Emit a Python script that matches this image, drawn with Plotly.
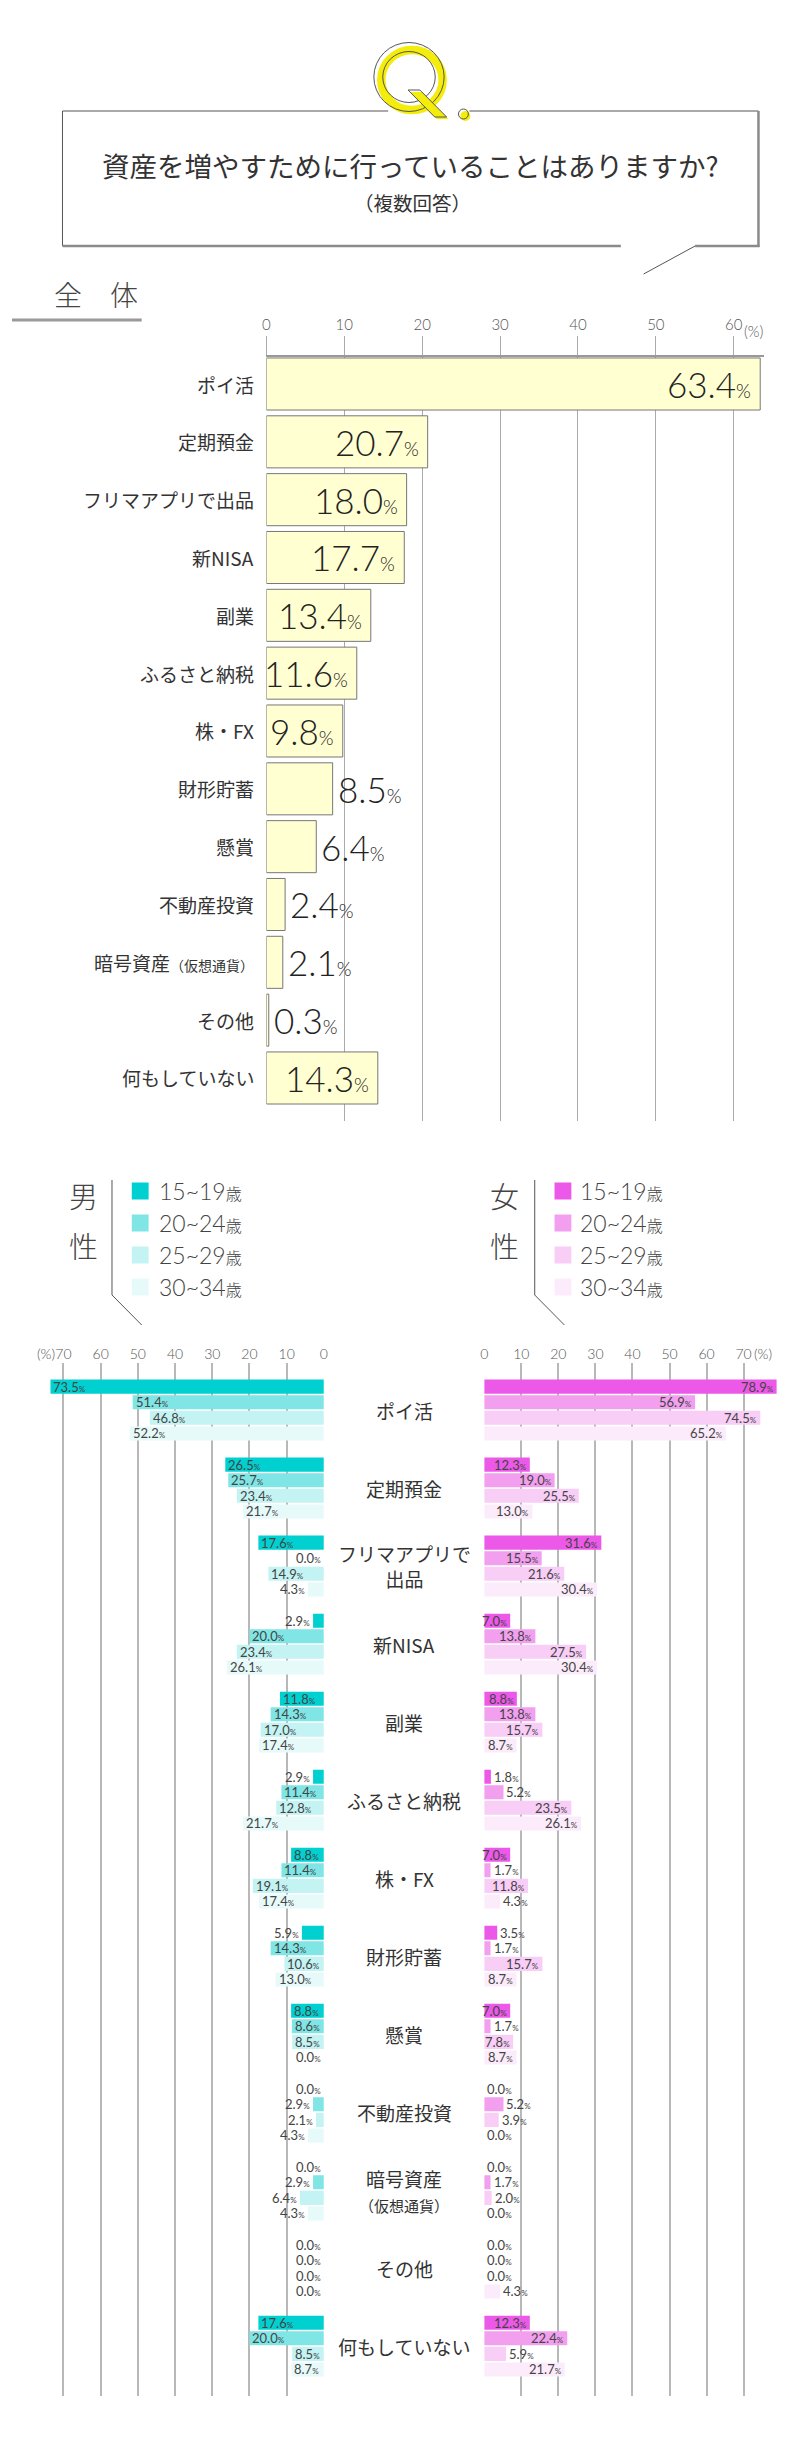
import plotly.graph_objects as go

# ---- data ----
categories = ["ポイ活", "定期預金", "フリマアプリで出品", "新NISA", "副業", "ふるさと納税", "株・FX",
              "財形貯蓄", "懸賞", "不動産投資", "暗号資産（仮想通貨）", "その他", "何もしていない"]
cat_top = ["ポイ活", "定期預金", "フリマアプリで出品", "新NISA", "副業", "ふるさと納税", "株・FX",
           "財形貯蓄", "懸賞", "不動産投資",
           "暗号資産<span style='font-size:14px'>（仮想通貨）</span>", "その他", "何もしていない"]
cat_bottom = ["ポイ活", "定期預金", "フリマアプリで<br>出品", "新NISA", "副業", "ふるさと納税", "株・FX",
              "財形貯蓄", "懸賞", "不動産投資",
              "暗号資産<br><span style='font-size:15px'>（仮想通貨）</span>", "その他", "何もしていない"]

total = [63.4, 20.7, 18.0, 17.7, 13.4, 11.6, 9.8, 8.5, 6.4, 2.4, 2.1, 0.3, 14.3]

age_groups = ["15~19", "20~24", "25~29", "30~34"]
male_15_19 = [73.5, 26.5, 17.6, 2.9, 11.8, 2.9, 8.8, 5.9, 8.8, 0.0, 0.0, 0.0, 17.6]
male_20_24 = [51.4, 25.7, 0.0, 20.0, 14.3, 11.4, 11.4, 14.3, 8.6, 2.9, 2.9, 0.0, 20.0]
male_25_29 = [46.8, 23.4, 14.9, 23.4, 17.0, 12.8, 19.1, 10.6, 8.5, 2.1, 6.4, 0.0, 8.5]
male_30_34 = [52.2, 21.7, 4.3, 26.1, 17.4, 21.7, 17.4, 13.0, 0.0, 4.3, 4.3, 0.0, 8.7]
female_15_19 = [78.9, 12.3, 31.6, 7.0, 8.8, 1.8, 7.0, 3.5, 7.0, 0.0, 0.0, 0.0, 12.3]
female_20_24 = [56.9, 19.0, 15.5, 13.8, 13.8, 5.2, 1.7, 1.7, 1.7, 5.2, 1.7, 0.0, 22.4]
female_25_29 = [74.5, 25.5, 21.6, 27.5, 15.7, 23.5, 11.8, 15.7, 7.8, 3.9, 2.0, 0.0, 5.9]
female_30_34 = [65.2, 13.0, 30.4, 30.4, 8.7, 26.1, 4.3, 8.7, 8.7, 0.0, 0.0, 4.3, 21.7]

male = [male_15_19, male_20_24, male_25_29, male_30_34]
female = [female_15_19, female_20_24, female_25_29, female_30_34]

top_ticks = [0, 10, 20, 30, 40, 50, 60]
bottom_ticks = [0, 10, 20, 30, 40, 50, 60, 70]

male_colors = ["#00D0D0", "#7FE5E5", "#C3F3F3", "#E7FAFA"]
female_colors = ["#EC58E8", "#F19FEE", "#F8CDF6", "#FCEBFB"]

W, H = 800, 2450
JP = "Noto Sans CJK JP"
NUM = "Lato, Noto Sans CJK JP"
TXT = "#333333"


def px(x):
    return x / W


def py(y):
    return 1 - y / H


def note(x, y, text, size, family=JP, color=TXT, xanchor="center", weight=None):
    f = dict(family=family, size=size, color=color)
    if weight:
        f["weight"] = weight
    return dict(x=px(x), y=py(y), xref="paper", yref="paper", xanchor=xanchor, yanchor="middle",
                showarrow=False, text=text, font=f)


fig = go.Figure()

# top chart (全体)
idx = list(range(len(categories)))
fig.add_trace(go.Bar(
    x=total, y=idx, orientation="h", width=0.9,
    marker=dict(color="#FFFFD2", line=dict(color="#777777", width=1)),
    xaxis="x", yaxis="y", showlegend=False, hoverinfo="skip"
))

# bottom charts (男性 / 女性)
for j in range(4):
    fig.add_trace(go.Bar(
        x=male[j], y=idx, orientation="h", name="男性 " + age_groups[j],
        marker=dict(color=male_colors[j], line=dict(width=0)),
        xaxis="x2", yaxis="y2", showlegend=False, hoverinfo="skip"
    ))
for j in range(4):
    fig.add_trace(go.Bar(
        x=female[j], y=idx, orientation="h", name="女性 " + age_groups[j],
        marker=dict(color=female_colors[j], line=dict(width=0)),
        xaxis="x3", yaxis="y2", showlegend=False, hoverinfo="skip"
    ))

ann = []

# title
ann.append(note(403, 157, "資産を増やすために行っていることはありますか?", 27.5))
ann.append(note(405, 195, "（複数回答）", 19.5))
ann.append(note(40, 286, "全　体", 28, color="#444444", xanchor="left", weight=300))

# top chart labels
for i, c in enumerate(cat_top):
    ann.append(dict(x=px(246), y=i, xref="paper", yref="y", xanchor="right", yanchor="middle",
                    showarrow=False, text=c, font=dict(family=JP, size=19, color=TXT)))
for i, v in enumerate(total):
    t = f"{v:.1f}<span style='font-size:19px'>%</span>"
    big = dict(family=NUM, size=35, color="#222222", weight=300)
    if v > 9:
        ann.append(dict(x=v, y=i, xref="x", yref="y", xanchor="right", yanchor="middle", xshift=-7,
                        showarrow=False, text=t, font=big))
    else:
        ann.append(dict(x=v, y=i, xref="x", yref="y", xanchor="left", yanchor="middle", xshift=3,
                        showarrow=False, text=t, font=big))
ann.append(note(737, 323, "(%)", 15, family=NUM, color="#555555", xanchor="left", weight=300))

# legends
for lab, x0 in [("男", 72), ("女", 497)]:
    ann.append(note(x0, 1187, lab, 29, color="#444444", weight=300))
    ann.append(note(x0, 1237, "性", 29, color="#444444", weight=300))
    for j, a in enumerate(age_groups):
        ann.append(note(x0 + 74 if lab == "男" else x0 + 75, 1183 + j * 32,
                        f"{a}<span style='font-size:16px'>歳</span>", 23,
                        family=NUM, color="#444444", xanchor="left", weight=300))

# bottom chart labels
for i, c in enumerate(cat_bottom):
    ann.append(dict(x=px(396), y=i, xref="paper", yref="y2", xanchor="center", yanchor="middle",
                    showarrow=False, text=c, font=dict(family=JP, size=19, color=TXT)))

offsets = [-0.3, -0.1, 0.1, 0.3]
small = dict(family=NUM, size=13, color="#444444")
for j in range(4):
    for i in idx:
        mv = male[j][i]
        t = f"{mv:.1f}<span style='font-size:8px'>%</span>"
        if mv >= 7:
            ann.append(dict(x=mv, y=i + offsets[j], xref="x2", yref="y2", xanchor="left", yanchor="middle",
                            xshift=1, showarrow=False, text=t, font=small))
        else:
            ann.append(dict(x=mv, y=i + offsets[j], xref="x2", yref="y2", xanchor="right", yanchor="middle",
                            xshift=-1, showarrow=False, text=t, font=small))
        fv = female[j][i]
        t = f"{fv:.1f}<span style='font-size:8px'>%</span>"
        if fv >= 7:
            ann.append(dict(x=fv, y=i + offsets[j], xref="x3", yref="y2", xanchor="right", yanchor="middle",
                            xshift=-1, showarrow=False, text=t, font=small))
        else:
            ann.append(dict(x=fv, y=i + offsets[j], xref="x3", yref="y2", xanchor="left", yanchor="middle",
                            xshift=1, showarrow=False, text=t, font=small))

ann.append(note(45, 1345, "(%)", 14, family=NUM, color="#555555", xanchor="right", weight=300))
ann.append(note(747, 1345, "(%)", 14, family=NUM, color="#555555", xanchor="left", weight=300))

# ---- decoration shapes ----
shapes = []


def line(x0, y0, x1, y1, color="#555555", width=1):
    shapes.append(dict(type="line", xref="paper", yref="paper", x0=px(x0), y0=py(y0),
                       x1=px(x1), y1=py(y1), line=dict(color=color, width=width), layer="above"))


# question box
line(51, 103, 51, 238)
line(51, 103, 380, 103)
line(462, 103, 754, 103)
line(754, 103, 754, 239, color="#8a8a8a", width=2.5)
line(51, 238, 615, 238, color="#8a8a8a", width=2.5)
line(690, 238, 755, 238, color="#8a8a8a", width=2.5)
line(690, 238, 638, 266)


# Q mark
def ellipse(cx, cy, rx, ry, color, width, fill="rgba(0,0,0,0)"):
    shapes.append(dict(type="circle", xref="paper", yref="paper",
                       x0=px(cx - rx), x1=px(cx + rx), y0=py(cy + ry), y1=py(cy - ry),
                       line=dict(color=color, width=width), fillcolor=fill, layer="above"))


ellipse(404, 72, 31, 30, "#F4EC0A", 8.5)
ellipse(401, 69, 35.5, 34.5, "#555555", 1)
ellipse(401, 69, 26.5, 25.5, "#555555", 1)
tail = [(400, 82), (412, 82), (439, 109), (427, 109)]
tail_y = [(px(a + 2), py(b + 2)) for a, b in tail]
shapes.append(dict(type="path", xref="paper", yref="paper", layer="above",
                   path="M " + " L ".join(f"{a},{b}" for a, b in tail_y) + " Z",
                   fillcolor="#F4EC0A", line=dict(width=0)))
shapes.append(dict(type="path", xref="paper", yref="paper", layer="above",
                   path="M " + " L ".join(f"{px(a)},{py(b)}" for a, b in tail) + " Z",
                   fillcolor="rgba(0,0,0,0)", line=dict(color="#555555", width=1)))
ellipse(458, 108, 5, 5, "rgba(0,0,0,0)", 0, fill="#F4EC0A")
ellipse(456, 106, 5, 5, "#555555", 1)

# 全体 underline
line(0, 312, 131, 312, color="#999999", width=3)

# legend brackets and swatches
for x0, cols in [(101, male_colors), (528, female_colors)]:
    line(x0, 1172, x0, 1287)
    line(x0, 1287, x0 + 30, 1317)
    for j, c in enumerate(cols):
        cy = 1183 + j * 32
        shapes.append(dict(type="rect", xref="paper", yref="paper",
                           x0=px(x0 + 20), x1=px(x0 + 37), y0=py(cy + 8.5), y1=py(cy - 8.5),
                           fillcolor=c, line=dict(width=0)))

fig.update_layout(
    width=W, height=H,
    margin=dict(l=0, r=0, t=0, b=0),
    paper_bgcolor="white", plot_bgcolor="white",
    barmode="group", bargap=0.2, bargroupgap=0.1,
    showlegend=False,
    annotations=ann, shapes=shapes,
    xaxis=dict(domain=[px(257), px(760)], range=[0, (760 - 257) / 7.867], anchor="y",
               side="top", tickvals=top_ticks, ticktext=[str(t) for t in top_ticks],
               showgrid=True, gridcolor="#aaaaaa", gridwidth=1, zeroline=False,
               showline=True, linecolor="#999999", linewidth=2,
               ticks="outside", ticklen=19, tickcolor="#aaaaaa", tickwidth=1,
               tickfont=dict(family=NUM, size=15, color="#555555", weight=300), fixedrange=True),
    yaxis=dict(domain=[py(1113), py(349)], range=[12.744, -0.467], anchor="x",
               showticklabels=False, showgrid=False, zeroline=False, fixedrange=True),
    xaxis2=dict(domain=[px(30), px(315)], range=[(315 - 30) / 3.757, 0], anchor="y2",
                side="top", tickvals=bottom_ticks, ticktext=[str(t) for t in bottom_ticks],
                showgrid=True, gridcolor="#b8b8b8", gridwidth=1.5, zeroline=False,
                ticks="", tickfont=dict(family=NUM, size=14, color="#555555", weight=300), fixedrange=True),
    xaxis3=dict(domain=[px(477), px(780)], range=[0, (780 - 477) / 3.743], anchor="y2",
                side="top", tickvals=bottom_ticks, ticktext=[str(t) for t in bottom_ticks],
                showgrid=True, gridcolor="#b8b8b8", gridwidth=1.5, zeroline=False,
                ticks="", tickfont=dict(family=NUM, size=14, color="#555555", weight=300), fixedrange=True),
    yaxis2=dict(domain=[py(2388), py(1355)], range=[12.64, -0.603], anchor="x2",
                showticklabels=False, showgrid=False, zeroline=False, fixedrange=True),
)

fig.write_html("out.html")
